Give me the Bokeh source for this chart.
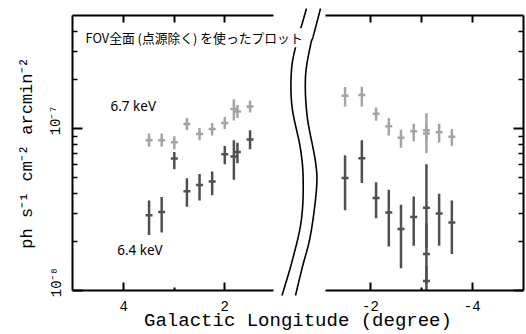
import numpy as np
from bokeh.plotting import figure
from bokeh.models import (Range1d, LogAxis, LinearAxis, FixedTicker,
                          CustomJSTickFormatter, Label, ColumnDataSource)
from bokeh.embed import file_html
from bokeh.resources import INLINE

# ---- data: Fe line surface brightness (ph s-1 cm-2 arcmin-2) vs Galactic longitude ----
# positive-longitude side
l_east = [3.5, 3.25, 3.0, 2.75, 2.5, 2.25, 2.0, 1.82, 1.75, 1.5]
fe67_east = [8.49e-8, 8.49e-8, 8.25e-8, 1.068e-7, 9.28e-8, 9.96e-8, 1.083e-7, 1.324e-7, 1.275e-7, 1.368e-7]
fe67_east_lo = [7.73e-8, 7.73e-8, 7.45e-8, 9.76e-8, 8.49e-8, 9.06e-8, 9.96e-8, 1.124e-7, 1.162e-7, 1.257e-7]
fe67_east_hi = [9.32e-8, 9.32e-8, 8.98e-8, 1.162e-7, 1.01e-7, 1.083e-7, 1.178e-7, 1.517e-7, 1.40e-7, 1.488e-7]
fe64_east = [2.92e-8, 3.06e-8, 6.54e-8, 4.11e-8, 4.49e-8, 4.71e-8, 6.94e-8, 6.72e-8, 7.17e-8, 8.57e-8]
fe64_east_lo = [2.20e-8, 2.28e-8, 5.62e-8, 3.29e-8, 3.60e-8, 3.87e-8, 6.03e-8, 4.84e-8, 6.12e-8, 7.45e-8]
fe64_east_hi = [3.60e-8, 3.78e-8, 7.17e-8, 4.94e-8, 5.24e-8, 5.44e-8, 7.80e-8, 8.49e-8, 8.18e-8, 9.76e-8]

# negative-longitude side
l_west67 = [-1.5, -1.83, -2.11, -2.36, -2.6, -2.85, -3.1, -3.1, -3.35, -3.6]
fe67_west = [1.596e-7, 1.611e-7, 1.234e-7, 1.033e-7, 8.78e-8, 9.63e-8, 9.76e-8, 9.32e-8, 9.49e-8, 8.90e-8]
fe67_west_lo = [1.368e-7, 1.368e-7, 1.119e-7, 9.06e-8, 7.63e-8, 8.37e-8, 7.04e-8, 8.3e-8, 8.18e-8, 7.80e-8]
fe67_west_hi = [1.81e-7, 1.812e-7, 1.349e-7, 1.162e-7, 9.86e-8, 1.073e-7, 1.246e-7, 1.05e-7, 1.073e-7, 9.96e-8]
l_west64 = [-1.5, -1.83, -2.11, -2.36, -2.6, -2.85, -3.1, -3.1, -3.1, -3.35, -3.6]
fe64_west = [4.96e-8, 6.56e-8, 3.73e-8, 3.03e-8, 2.40e-8, 2.85e-8, 3.25e-8, 1.68e-8, 1.146e-8, 2.99e-8, 2.63e-8]
fe64_west_lo = [3.13e-8, 4.62e-8, 2.79e-8, 1.87e-8, 1.37e-8, 1.89e-8, 1.83e-8, 1.1e-8, 9.0e-9, 1.89e-8, 1.68e-8]
fe64_west_hi = [6.84e-8, 8.49e-8, 4.67e-8, 4.19e-8, 3.39e-8, 3.81e-8, 6.03e-8, 2.60e-8, 1.42e-8, 3.96e-8, 3.60e-8]

# ticks and texts
east_ticks = [4, 3, 2]
west_ticks = [-2, -3, -4]
east_tick_labels = ["4", "", "2"]
west_tick_labels = ["-2", "", "-4"]
y_major = [1e-8, 1e-7]
y_tick_labels = ["10⁻⁸", "10⁻⁷"]
y_minor = [2e-8, 3e-8, 4e-8, 5e-8, 6e-8, 7e-8, 8e-8, 9e-8, 2e-7, 3e-7, 4e-7]
title_text = "FOV全面 (点源除く) を使ったプロット"
x_title = "Galactic Longitude (degree)"
y_title = "ph s⁻¹ cm⁻² arcmin⁻²"
line_labels = ["6.7 keV", "6.4 keV"]

# ---- geometry / style ----
W, H = 526, 334
FL, FR, FT, FB = 72, 523, 15, 293          # frame edges in px
EAST = (5.016, -3.915)                     # default x range across the whole frame
WEST = (3.860, -5.009)                     # extra x range for the negative side
EAST_BOUNDS = (5.016, 1.036)
WEST_BOUNDS = (-1.115, -5.009)
YR = (1e-8, 5e-7)
LIGHT = "#a4a4a4"
DARK = "#505050"
MONO = "Liberation Mono"


def px2x(px):
    return EAST[0] + (np.asarray(px) - FL) / (FR - FL) * (EAST[1] - EAST[0])


def py2y(py):
    ly0, ly1 = np.log10(YR[0]), np.log10(YR[1])
    return 10 ** (ly0 + (FB - np.asarray(py)) / (FB - FT) * (ly1 - ly0))


def west2east(w):
    # position of a negative-side longitude expressed in the default x range
    f = (np.asarray(w, float) - WEST[0]) / (WEST[1] - WEST[0])
    return EAST[0] + f * (EAST[1] - EAST[0])


p = figure(width=W, height=H, output_backend="svg", toolbar_location=None,
           x_range=Range1d(*EAST), y_range=Range1d(*YR), y_axis_type="log",
           x_axis_location=None, y_axis_location=None,
           min_border_left=FL, min_border_right=W - FR,
           min_border_top=FT, min_border_bottom=H - FB)
p.extra_x_ranges = {"west": Range1d(*WEST)}
p.grid.grid_line_color = None
p.outline_line_color = None

# ---- y axes ----
# the label is padded at its start so that the "10" sits on the tick
ylab_fmt = CustomJSTickFormatter(args=dict(vals=y_major, labels=y_tick_labels), code="""
    for (let i = 0; i < vals.length; i++) {
        if (Math.abs(Math.log10(vals[i]) - Math.log10(tick)) < 1e-6)
            return "\\u00a0\\u00a0" + labels[i];
    }
    return "";
""")


def style_ticks(ax, major, minor):
    ax.major_tick_in, ax.major_tick_out = major, 0
    ax.minor_tick_in, ax.minor_tick_out = minor, 0
    ax.major_tick_line_width = 2
    ax.minor_tick_line_width = 1.5
    ax.major_label_text_color = "black"


def hide_labels(ax):
    ax.major_label_text_font_size = "1px"
    ax.major_label_text_color = None
    ax.major_label_standoff = 0


yl = LogAxis(ticker=FixedTicker(ticks=y_major, minor_ticks=y_minor), formatter=ylab_fmt,
             axis_label=y_title)
style_ticks(yl, 10, 5)
yl.axis_line_width = 2
yl.major_label_orientation = "vertical"
yl.major_label_text_font = MONO
yl.major_label_text_font_size = "14px"
yl.major_label_standoff = 8
yl.axis_label_text_font = MONO
yl.axis_label_text_font_size = "17px"
yl.axis_label_text_font_style = "normal"
yl.axis_label_text_color = "black"
yl.axis_label_standoff = 9
p.add_layout(yl, "left")

yr = LogAxis(ticker=FixedTicker(ticks=y_major, minor_ticks=y_minor))
style_ticks(yr, 10, 5)
yr.axis_line_width = 2
hide_labels(yr)
p.add_layout(yr, "right")

# ---- x axes: one per side, ticks of both panels placed on the shared frame ----
x_major = [east_ticks[0], east_ticks[2]] + list(west2east([west_ticks[0], west_ticks[2]]))
x_major_labels = [east_tick_labels[0], east_tick_labels[2], west_tick_labels[0], west_tick_labels[2]]
x_minor = [east_ticks[1], float(west2east(west_ticks[1]))]
x_all = east_ticks + list(west2east(west_ticks))

xlab_fmt = CustomJSTickFormatter(args=dict(vals=x_major, labels=x_major_labels), code="""
    for (let i = 0; i < vals.length; i++) {
        if (Math.abs(vals[i] - tick) < 1e-6)
            return labels[i];
    }
    return "";
""")

xb = LinearAxis(ticker=FixedTicker(ticks=x_major, minor_ticks=x_minor), formatter=xlab_fmt,
                axis_label=x_title)
style_ticks(xb, 8, 3)
xb.minor_tick_line_width = 2
xb.axis_line_color = None
xb.major_label_text_font = MONO
xb.major_label_text_font_size = "14px"
xb.major_label_standoff = 10
xb.axis_label_text_font = MONO
xb.axis_label_text_font_size = "19px"
xb.axis_label_text_font_style = "normal"
xb.axis_label_text_color = "black"
xb.axis_label_standoff = -4
p.add_layout(xb, "below")

xt = LinearAxis(ticker=FixedTicker(ticks=x_all, minor_ticks=[]))
style_ticks(xt, 7, 3)
xt.axis_line_color = None
hide_labels(xt)
p.add_layout(xt, "above")

# top and bottom spines of each panel
for y in YR:
    p.segment(x0=[EAST_BOUNDS[0]], y0=[y], x1=[EAST_BOUNDS[1]], y1=[y],
              line_color="black", line_width=2, level="annotation")
    p.segment(x0=[WEST_BOUNDS[0]], y0=[y], x1=[WEST_BOUNDS[1]], y1=[y],
              line_color="black", line_width=2, level="annotation", x_range_name="west")


# ---- data marks ----
def errpoints(l, v, lo, hi, color, range_name=None):
    src = ColumnDataSource(dict(l=l, v=v, lo=lo, hi=hi))
    kw = dict(x_range_name=range_name) if range_name else {}
    p.segment(x0="l", y0="lo", x1="l", y1="hi", source=src, line_color=color,
              line_width=2.5, **kw)
    p.scatter(x="l", y="v", source=src, marker="dash", size=7, line_width=2.5,
              line_color=color, **kw)


errpoints(l_east, fe67_east, fe67_east_lo, fe67_east_hi, LIGHT)
errpoints(l_east, fe64_east, fe64_east_lo, fe64_east_hi, DARK)
errpoints(l_west67, fe67_west, fe67_west_lo, fe67_west_hi, LIGHT, "west")
errpoints(l_west64, fe64_west, fe64_west_lo, fe64_west_hi, DARK, "west")


# ---- axis-break symbol: two wavy strokes between the panels ----
def catmull(pts, n=14):
    P = np.array(pts, float)
    P = np.vstack([P[0], P, P[-1]])
    out = []
    for i in range(1, len(P) - 2):
        p0, p1, p2, p3 = P[i - 1], P[i], P[i + 1], P[i + 2]
        for t in np.linspace(0, 1, n, endpoint=False):
            out.append(0.5 * (2 * p1 + (-p0 + p2) * t + (2 * p0 - 5 * p1 + 4 * p2 - p3) * t * t
                              + (-p0 + 3 * p1 - 3 * p2 + p3) * t ** 3))
    out.append(P[-2])
    return np.array(out)


break_left = [(306, 8), (302, 22), (296, 43), (291, 70), (291.5, 107), (300, 150),
              (302.7, 183), (300.7, 223), (291.7, 263), (281.5, 298)]
break_right = [(320, 8), (313, 35), (310, 45), (305, 77), (306.7, 117), (315, 163),
               (316, 190), (310, 237), (301.7, 270), (295, 298)]
for stroke in (break_left, break_right):
    c = catmull(stroke)
    p.line(x=list(px2x(c[:, 0])), y=list(py2y(c[:, 1])), line_color="black",
           line_width=1.6, level="annotation")

# ---- texts ----
p.add_layout(Label(x=float(px2x(85)), y=float(py2y(37.5)), text=title_text,
                   text_font="Noto Sans CJK JP", text_font_size="12.8px", text_color="black",
                   text_baseline="alphabetic", background_fill_color="white"))
p.add_layout(Label(x=float(px2x(110)), y=float(py2y(106.7)), text=line_labels[0],
                   text_font="Noto Sans", text_font_size="13.5px", text_color="black",
                   text_baseline="alphabetic"))
p.add_layout(Label(x=float(px2x(116.7)), y=float(py2y(251.7)), text=line_labels[1],
                   text_font="Noto Sans", text_font_size="13.5px", text_color="black",
                   text_baseline="alphabetic"))

open("out.html", "w").write(file_html(p, INLINE))
